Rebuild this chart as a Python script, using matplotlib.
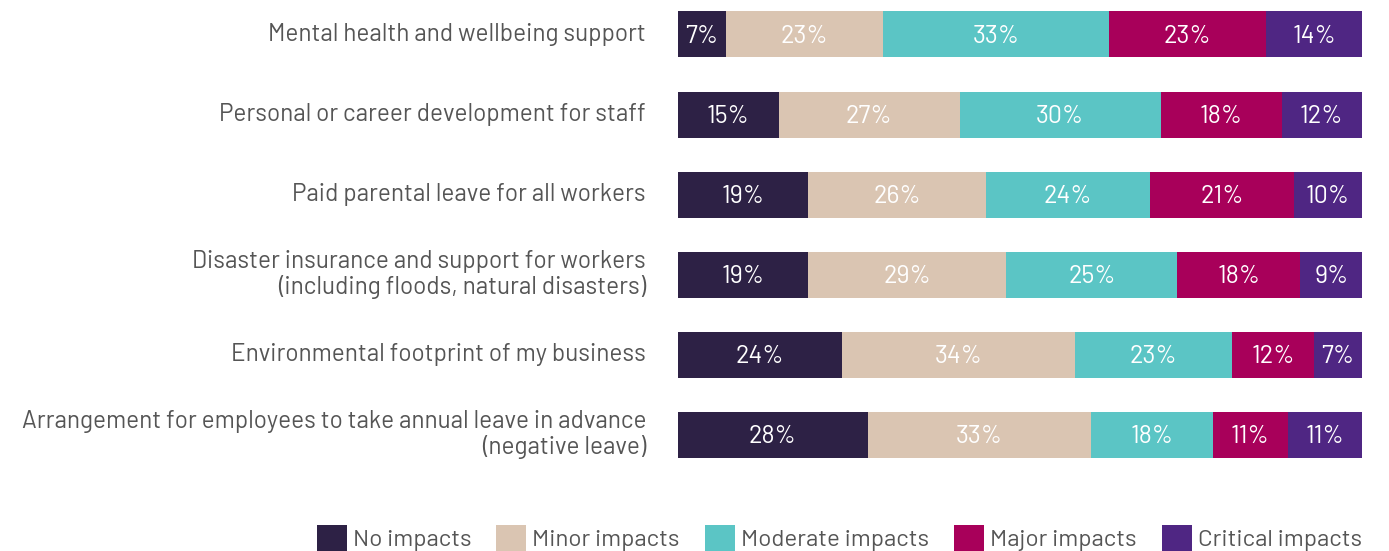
import matplotlib
matplotlib.use("Agg")
import matplotlib.pyplot as plt
import numpy as np

categories = [
    "Mental health and wellbeing support",
    "Personal or career development for staff",
    "Paid parental leave for all workers",
    "Disaster insurance and support for workers\n(including floods, natural disasters)",
    "Environmental footprint of my business",
    "Arrangement for employees to take annual leave in advance\n(negative leave)",
]
series_names = ["No impacts", "Minor impacts", "Moderate impacts", "Major impacts", "Critical impacts"]
no_impacts = [7, 15, 19, 19, 24, 28]
minor_impacts = [23, 27, 26, 29, 34, 33]
moderate_impacts = [33, 30, 24, 25, 23, 18]
major_impacts = [23, 18, 21, 18, 12, 11]
critical_impacts = [14, 12, 10, 9, 7, 11]
colors = ["#2d2145", "#dac5b2", "#5bc5c5", "#a8005a", "#4f2683"]

plt.rcParams["font.family"] = ["Barlow", "DejaVu Sans"]
plt.rcParams["font.weight"] = 400

series = np.array([no_impacts, minor_impacts, moderate_impacts, major_impacts, critical_impacts], dtype=float)
totals = series.sum(axis=0)
shares = series / totals * 100

W, H = 1389, 551
fig = plt.figure(figsize=(W / 100, H / 100), dpi=100)
ax = fig.add_axes([678 / W, 1 - 473 / H, 684 / W, 473 / H])

y = np.arange(len(categories))
left = np.zeros(len(categories))
handles = []
for name, vals, shown, col in zip(series_names, shares, series, colors):
    bars = ax.barh(y, vals, left=left, height=0.575, color=col, label=name, edgecolor="none")
    handles.append(bars)
    for yi, l, v, s in zip(y, left, vals, shown):
        ax.text(l + v / 2, yi + 0.02, f"{int(s)}%", ha="center", va="center",
                color="white", fontsize=18)
    left += vals

ax.set_xlim(0, 100)
ax.set_ylim(5.48, -0.431)
ax.axis("off")

for yi, cat in zip(y, categories):
    ax.text(-32 / 684 * 100, yi, cat, ha="right", va="center", color="#555555",
            fontsize=17.5, linespacing=1.1)

fig.legend(handles=handles, labels=series_names, loc="lower right",
           bbox_to_anchor=(1362 / W, 0), ncol=5, frameon=False, fontsize=17.3,
           handlelength=1.25, handleheight=1.25, handletextpad=0.25,
           columnspacing=1.05, borderpad=0, borderaxespad=0, labelcolor="#555555")

fig.savefig("out.png", dpi=100)
